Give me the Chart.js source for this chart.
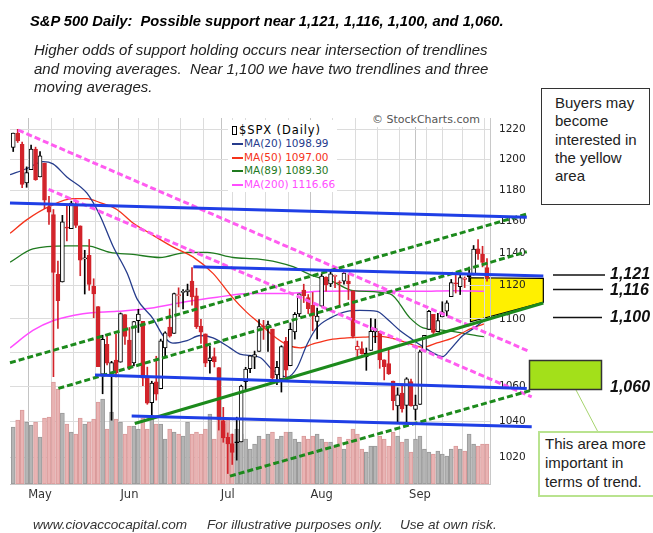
<!DOCTYPE html>
<html>
<head>
<meta charset="utf-8">
<script src="https://cdn.jsdelivr.net/npm/chart.js@4.4.1/dist/chart.umd.min.js"></script>
<style>
  html, body { margin: 0; padding: 0; background: #fff; }
  #wrap { position: relative; width: 653px; height: 533px; overflow: hidden; font-family: "Liberation Sans", Arial, sans-serif; }
  #wrap canvas, #wrap svg { position: absolute; left: 0; top: 0; }
  .t { position: absolute; white-space: nowrap; color: #111; }
  .title { left: 30px; top: 12px; font: italic bold 14.7px "Liberation Sans", Arial, sans-serif; line-height: 18px; color: #000; }
  .sub { left: 34px; top: 41px; font: italic 15px "Liberation Sans", Arial, sans-serif; line-height: 18.5px; white-space: pre; color: #222; }
  .foot { top: 517px; font: italic 13.6px "Liberation Sans", Arial, sans-serif; line-height: 15px; color: #333; }
  .box { position: absolute; background: #fff; font: 15px "Liberation Sans", Arial, sans-serif; color: #222; white-space: pre; }
  .lvl { position: absolute; left: 610px; font: italic bold 16px "Liberation Sans", Arial, sans-serif; line-height: 18px; color: #111; }
  .leg { position: absolute; left: 228px; top: 120px; width: 109px; height: 72px; background: #fff;
         font: 10.5px "DejaVu Sans", sans-serif; line-height: 13.4px; padding: 4px 0 0 4px; box-sizing: border-box; white-space: nowrap; }
  .leg .dash { display: inline-block; width: 11px; height: 2px; vertical-align: middle; margin-right: 1px; }
  .leg .hd { font-size: 11.5px; letter-spacing: 0.9px; color: #000; }
  .leg .ico { display: inline-block; width: 3px; height: 7px; border: 1px solid #000; margin-right: 2px; vertical-align: -1px; }
  .sc { left: 372px; top: 113px; font: 11px "DejaVu Sans", sans-serif; color: #555; background: #fff; line-height: 14px; }
</style>
</head>
<body>
<div id="wrap">
  <canvas id="chart" width="653" height="533"></canvas>
  <svg width="653" height="533">
    <line x1="553" y1="275" x2="605" y2="275" stroke="#111" stroke-width="1.5"/>
    <line x1="553" y1="289.5" x2="603" y2="289.5" stroke="#111" stroke-width="1.5"/>
    <line x1="553" y1="317.5" x2="602" y2="317.5" stroke="#111" stroke-width="1.5"/>
    <line x1="576" y1="390" x2="598" y2="432" stroke="#a6d46e" stroke-width="1"/>
    <rect x="529.5" y="360.5" width="72" height="29" fill="#a3e01a" stroke="#333" stroke-width="1.5"/>
  </svg>
  <div class="t title">S&amp;P 500 Daily:&nbsp; Possible support near 1,121, 1,116, 1,100, and 1,060.</div>
  <div class="t sub">Higher odds of support holding occurs near intersection of trendlines
and moving averages.  Near 1,100 we have two trendlines and three
moving averages.</div>
  <div class="t foot" style="left:33px">www.ciovaccocapital.com</div>
  <div class="t foot" style="left:207px">For illustrative purposes only.</div>
  <div class="t foot" style="left:400px">Use at own risk.</div>
  <div class="leg">
    <div class="hd"><span class="ico"></span>$SPX (Daily)</div>
    <div style="color:#263c8c"><span class="dash" style="background:#263c8c"></span>MA(20) 1098.99</div>
    <div style="color:#f5331b"><span class="dash" style="background:#f5331b"></span>MA(50) 1097.00</div>
    <div style="color:#1f7a1f"><span class="dash" style="background:#1f7a1f"></span>MA(89) 1089.30</div>
    <div style="color:#ff4dff"><span class="dash" style="background:#ff4dff"></span>MA(200) 1116.66</div>
  </div>
  <div class="t sc">© StockCharts.com</div>
  <div class="box" style="left:541px;top:88px;width:109px;height:117px;border:1px solid #333;box-sizing:border-box;padding:5px 0 0 13px;line-height:18.3px;">Buyers may
become
interested in
the yellow
area</div>
  <div class="box" style="left:538px;top:431px;width:118px;height:66px;border:2px solid #b9e38f;box-sizing:border-box;padding:1px 0 0 5px;line-height:19px;">This area more
important in
terms of trend.</div>
  <div class="lvl" style="top:265px">1,121</div>
  <div class="lvl" style="top:281px">1,116</div>
  <div class="lvl" style="top:308px">1,100</div>
  <div class="lvl" style="top:378px">1,060</div>
</div>

<script>
// $SPX daily, 2010-04-23 .. 2010-09-23
var dates = [
  '2010-04-23','2010-04-26','2010-04-27','2010-04-28','2010-04-29','2010-04-30',
  '2010-05-03','2010-05-04','2010-05-05','2010-05-06','2010-05-07','2010-05-10','2010-05-11','2010-05-12','2010-05-13','2010-05-14',
  '2010-05-17','2010-05-18','2010-05-19','2010-05-20','2010-05-21','2010-05-24','2010-05-25','2010-05-26','2010-05-27','2010-05-28',
  '2010-06-01','2010-06-02','2010-06-03','2010-06-04','2010-06-07','2010-06-08','2010-06-09','2010-06-10','2010-06-11','2010-06-14',
  '2010-06-15','2010-06-16','2010-06-17','2010-06-18','2010-06-21','2010-06-22','2010-06-23','2010-06-24','2010-06-25','2010-06-28',
  '2010-06-29','2010-06-30',
  '2010-07-01','2010-07-02','2010-07-06','2010-07-07','2010-07-08','2010-07-09','2010-07-12','2010-07-13','2010-07-14','2010-07-15',
  '2010-07-16','2010-07-19','2010-07-20','2010-07-21','2010-07-22','2010-07-23','2010-07-26','2010-07-27','2010-07-28','2010-07-29','2010-07-30',
  '2010-08-02','2010-08-03','2010-08-04','2010-08-05','2010-08-06','2010-08-09','2010-08-10','2010-08-11','2010-08-12','2010-08-13',
  '2010-08-16','2010-08-17','2010-08-18','2010-08-19','2010-08-20','2010-08-23','2010-08-24','2010-08-25','2010-08-26','2010-08-27',
  '2010-08-30','2010-08-31',
  '2010-09-01','2010-09-02','2010-09-03','2010-09-07','2010-09-08','2010-09-09','2010-09-10','2010-09-13','2010-09-14','2010-09-15',
  '2010-09-16','2010-09-17','2010-09-20','2010-09-21','2010-09-22','2010-09-23'
];
var opens = [
  1207.87,1217.07,1209.92,1184.59,1193.30,1206.77,
  1188.58,1197.50,1169.24,1164.38,1127.04,1122.27,1156.39,1155.43,1170.04,1157.19,
  1136.52,1138.78,1119.57,1107.34,1067.26,1084.78,1067.42,1075.51,1074.27,1102.59,
  1087.30,1073.89,1098.82,1098.43,1065.84,1050.81,1062.75,1058.77,1082.65,1095.00,
  1091.21,1114.02,1115.98,1116.16,1122.79,1113.90,1095.57,1090.93,1075.10,1077.50,
  1071.10,1040.56,
  1031.10,1027.65,1028.09,1028.54,1062.92,1070.50,1077.23,1080.65,1095.61,1094.46,
  1093.85,1066.85,1064.53,1086.67,1072.14,1092.17,1102.89,1117.36,1112.84,1108.07,1098.44,
  1107.53,1125.34,1121.06,1125.78,1122.07,1122.80,1122.92,1116.89,1081.48,1082.22,
  1077.49,1081.16,1092.08,1092.44,1075.63,1073.36,1063.20,1048.98,1056.28,1049.27,
  1062.90,1046.88,
  1049.72,1080.66,1093.61,1102.60,1092.36,1101.15,1104.57,1113.38,1121.16,1119.43,
  1123.89,1126.39,1126.57,1142.82,1139.49,1131.10
];
var highs = [
  1217.28,1219.80,1211.38,1195.05,1209.36,1207.99,
  1205.13,1197.50,1175.95,1167.58,1135.13,1163.85,1170.48,1172.87,1173.57,1157.19,
  1141.88,1148.66,1124.27,1107.34,1090.16,1089.95,1074.75,1090.75,1103.52,1102.59,
  1094.77,1098.42,1105.67,1098.43,1071.36,1063.15,1077.74,1087.85,1092.25,1105.91,
  1115.59,1118.74,1117.72,1121.01,1131.23,1118.50,1099.64,1090.93,1083.56,1082.60,
  1071.10,1048.08,
  1033.58,1032.95,1042.50,1060.89,1071.25,1078.16,1080.78,1099.46,1099.08,1098.66,
  1093.85,1074.70,1083.94,1088.96,1097.50,1103.73,1115.01,1120.95,1114.66,1115.90,1106.44,
  1127.30,1125.44,1128.75,1126.56,1123.06,1129.24,1127.16,1116.89,1086.72,1086.25,
  1082.62,1100.14,1099.77,1092.44,1075.63,1081.58,1063.20,1059.38,1061.45,1065.21,
  1064.40,1055.14,
  1081.30,1090.10,1105.10,1102.60,1103.26,1110.27,1110.88,1123.87,1127.36,1126.46,
  1125.44,1131.47,1144.86,1148.59,1144.38,1136.77
];
var lows = [
  1205.10,1211.07,1181.62,1181.81,1193.30,1186.32,
  1188.58,1168.12,1158.15,1065.79,1094.15,1122.27,1147.71,1155.43,1156.14,1126.14,
  1114.96,1117.20,1100.66,1071.58,1055.90,1072.70,1040.78,1065.59,1074.27,1084.78,
  1069.89,1072.03,1091.81,1060.50,1049.86,1042.17,1052.25,1058.77,1077.12,1089.03,
  1091.21,1107.13,1105.87,1113.93,1108.24,1094.18,1085.31,1071.60,1067.89,1071.45,
  1035.18,1028.33,
  1010.91,1015.93,1018.35,1028.54,1058.24,1068.10,1070.45,1080.65,1087.68,1080.53,
  1063.32,1061.11,1056.88,1065.25,1072.14,1087.88,1101.30,1109.78,1103.11,1092.82,1088.01,
  1107.53,1116.76,1119.46,1118.81,1107.17,1120.91,1111.58,1088.55,1076.69,1079.00,
  1069.49,1081.16,1085.76,1070.66,1063.91,1067.08,1046.68,1039.83,1045.40,1039.70,
  1048.79,1040.88,
  1049.72,1080.39,1093.61,1091.15,1092.36,1101.15,1101.70,1113.38,1115.58,1114.63,
  1118.88,1122.43,1126.57,1136.22,1131.58,1122.79
];
var closes = [
  1217.28,1212.05,1183.71,1191.36,1206.78,1186.69,
  1202.26,1173.60,1165.87,1128.15,1110.88,1159.73,1155.79,1171.67,1157.44,1135.68,
  1136.94,1120.80,1115.05,1071.59,1087.69,1073.65,1074.03,1067.95,1103.06,1089.41,
  1070.71,1098.38,1102.83,1064.88,1050.47,1062.00,1055.69,1086.84,1091.60,1089.63,
  1115.23,1114.61,1116.04,1117.51,1113.20,1095.31,1092.04,1073.69,1076.76,1074.57,
  1041.24,1030.71,
  1027.37,1022.58,1028.06,1060.27,1070.25,1077.96,1078.75,1095.34,1095.17,1096.48,
  1064.88,1071.25,1083.48,1069.59,1093.67,1102.66,1115.01,1113.84,1106.13,1101.53,1101.60,
  1125.86,1120.46,1127.24,1125.81,1121.64,1127.79,1121.06,1089.47,1083.61,1079.25,
  1079.38,1092.54,1094.16,1075.63,1071.69,1067.36,1051.87,1055.33,1047.22,1064.59,
  1048.92,1049.33,
  1080.29,1090.10,1104.51,1091.84,1098.87,1104.18,1109.55,1121.90,1121.10,1125.07,
  1124.66,1125.59,1142.71,1139.78,1134.28,1124.83
];
// volume, billions of shares
var volumes = [
  5.7,6.4,7.4,6.2,5.9,6.2,
  4.7,6.6,6.7,10.2,9.5,7.1,6.0,5.2,5.0,6.6,6.0,6.2,6.5,8.2,8.5,5.5,7.2,6.5,6.2,5.0,
  5.8,5.8,5.5,6.6,5.5,6.5,6.0,6.0,4.5,5.5,5.2,5.0,4.8,6.2,5.0,5.2,5.0,5.5,7.0,4.5,6.5,6.0,
  6.5,5.0,5.5,5.0,4.5,3.5,4.0,4.8,4.5,5.0,5.2,4.5,4.8,5.2,5.2,4.5,4.2,4.8,4.5,4.8,5.0,
  4.5,4.2,4.2,3.8,4.7,3.5,4.5,5.5,5.0,3.5,3.2,3.8,3.8,4.8,4.5,3.8,5.2,4.8,4.2,4.5,3.2,4.5,
  4.8,3.5,3.2,3.0,3.3,3.0,2.8,3.5,3.8,3.5,3.3,5.0,4.0,3.8,4.0,4.0
];

// moving averages: [day position, value]
var ma20 = [[-0.7,1190],[3.1,1194],[6.7,1198.5],[8.9,1197],[12.0,1188.5],[16.5,1178],[19.4,1163.8],[22.3,1144.6],
  [25.5,1127.6],[27.7,1112],[31.3,1100],[33.5,1090],[35.7,1085.5],[38.9,1087],[41.8,1090],[44.7,1088.6],[48.5,1082.7],
  [50.7,1079],[55.2,1077],[58.1,1069.5],[61.3,1065.5],[63.5,1071],[65.7,1084.5],[67.9,1094.5],[70.9,1100.4],[74.7,1104.5],
  [77.6,1105],[81.4,1104.5],[83.6,1100],[86.5,1093],[88.8,1088.6],[91.0,1084.5],[93.9,1079.8],[96.1,1077.5],[97.7,1081.5],
  [100.6,1090],[102.9,1094],[105.3,1098.99]];
var ma50 = [[-0.7,1152.5],[3.0,1161],[8.2,1169.7],[13.4,1174.5],[16.5,1174.5],[19.4,1172],[23.2,1167.6],[26.8,1159],
  [30.6,1152.5],[35.7,1144],[40.2,1137.8],[44.7,1127.6],[48.7,1114],[52.2,1104],[55.2,1097],[58.1,1090],[61.3,1084.5],
  [64.2,1082.7],[67.1,1085],[70.9,1087.6],[74.7,1088.6],[78.3,1089],[82.1,1089.5],[85.9,1087.6],[88.8,1085],[91.7,1083],
  [94.8,1085.6],[98.4,1088.6],[101.5,1093],[105.3,1097.00]];
var ma89 = [[-0.7,1134.5],[4.4,1142.7],[12.0,1144.6],[16.5,1144.6],[21.7,1140.6],[26.8,1139.3],[32.8,1137.4],[38.9,1140.6],
  [43.4,1140.6],[49.2,1137.4],[54.5,1136.5],[59.0,1134.6],[62.6,1131.7],[67.1,1126],[71.5,1122.5],[76.0,1117],[84.3,1115],
  [88.8,1100.4],[91.7,1094.5],[95.5,1093.3],[105.3,1089.30]];
var ma200 = [[-0.7,1082.7],[4.4,1093],[8.9,1098.8],[15.6,1103],[23.2,1104.5],[30.6,1106.3],[38.9,1110.4],[45.6,1113],
  [53.0,1115.3],[61.3,1115.3],[68.6,1116.6],[76.0,1116.8],[83.6,1116.8],[91.0,1116.6],[98.4,1117],[105.3,1116.66]];

// hand-drawn trendlines: [day1, price1, day2, price2]
var blueLines = [[-0.72,1171.7,114.9,1162.6],[40.3,1131.6,118.6,1125.9],[18.3,1066.7,114.9,1058.9],[26.5,1043.1,116.0,1037.0]];
var greenSolid = [[27.2,1038.9,118.6,1109.5]];
var greenDashed = [[-0.72,1073.9,114.9,1164.7],[10.1,1059.0,114.9,1141.0],[48.5,1009.5,116.0,1058.0]];
var pinkDashed = [[1.1,1219.3,115.6,1080.4],[7.9,1180.5,116.0,1054.1]];
// yellow support zone
var zoneDays = [102.3, 118.6];
var zoneTop = [1124.9, 1124.5];
var zoneBottom = [1098.2, 1109.9];

var priceTicks = [1020, 1040, 1060, 1080, 1100, 1120, 1140, 1160, 1180, 1200, 1220];
var monthNames = ['Jan','Feb','Mar','Apr','May','Jun','Jul','Aug','Sep','Oct','Nov','Dec'];

var RED = '#d2232a', BLACK = '#000';

var dayInfo = dates.map(function(d) {
  var dt = new Date(d + 'T00:00:00Z');
  return { dow: dt.getUTCDay(), month: dt.getUTCMonth() };
});
var gridDays = [], monthStart = {};
for (var i = 1; i < dates.length; i++) {
  var week = dayInfo[i].dow < dayInfo[i - 1].dow;
  var mon = dayInfo[i].month !== dayInfo[i - 1].month;
  if (mon) monthStart[i] = monthNames[dayInfo[i].month];
  if (week || mon) gridDays.push(i);
}

var colorOf = closes.map(function(c, i) { return (i === 0 || c >= closes[i - 1]) ? BLACK : RED; });

function seg(s, color, dash) {
  return {
    type: 'line', data: [{x: s[0], y: s[1]}, {x: s[2], y: s[3]}],
    borderColor: color, borderWidth: 3, borderDash: dash || [], pointRadius: 0,
    clip: false, order: 0, yAxisID: 'y'
  };
}
function maLine(arr, color, w) {
  return {
    type: 'line', data: arr.map(function(p) { return {x: p[0], y: p[1]}; }),
    borderColor: color, borderWidth: w, pointRadius: 0, tension: 0.4,
    cubicInterpolationMode: 'monotone', order: 3, yAxisID: 'y'
  };
}

var datasets = [];
blueLines.forEach(function(s) { datasets.push(seg(s, '#1f3fe6')); });
greenSolid.forEach(function(s) { datasets.push(seg(s, '#1c8a1c')); });
greenDashed.forEach(function(s) { datasets.push(seg(s, '#1c8a1c', [6, 3])); });
pinkDashed.forEach(function(s) { datasets.push(seg(s, '#ff5cf0', [6, 3])); });

datasets.push({
  type: 'bar', grouped: false, order: 1, yAxisID: 'y',
  data: dates.map(function(d, i) { return {x: i, y: [opens[i], closes[i]]}; }),
  backgroundColor: closes.map(function(c, i) { return c < opens[i] ? colorOf[i] : '#fff'; }),
  borderColor: colorOf, borderWidth: 1, borderSkipped: false, barThickness: 4, minBarLength: 1
});
datasets.push({
  type: 'bar', grouped: false, order: 2, yAxisID: 'y',
  data: dates.map(function(d, i) { return {x: i, y: [lows[i], highs[i]]}; }),
  backgroundColor: colorOf, borderWidth: 0, barThickness: 1
});
datasets.push(maLine(ma20, '#263c8c', 1.3));
datasets.push(maLine(ma50, '#f5331b', 1.3));
datasets.push(maLine(ma89, '#1f7a1f', 1.3));
datasets.push(maLine(ma200, '#ff4dff', 1.5));
datasets.push({
  type: 'bar', grouped: false, order: 5, yAxisID: 'yv',
  data: volumes.map(function(v, i) { return {x: i, y: v}; }),
  backgroundColor: colorOf.map(function(c) { return c === RED ? '#e9b3b3' : '#b5b5b5'; }),
  borderColor: colorOf.map(function(c) { return c === RED ? '#d99a9a' : '#999'; }),
  borderWidth: 1, borderSkipped: false, barThickness: 4
});

var zonePlugin = {
  id: 'zone',
  beforeDraw: function(chart) {
    var ctx = chart.ctx, x = chart.scales.x, y = chart.scales.y;
    ctx.save();
    ctx.beginPath();
    ctx.moveTo(x.getPixelForValue(zoneDays[0]), y.getPixelForValue(zoneTop[0]));
    ctx.lineTo(x.getPixelForValue(zoneDays[1]), y.getPixelForValue(zoneTop[1]));
    ctx.lineTo(x.getPixelForValue(zoneDays[1]), y.getPixelForValue(zoneBottom[1]));
    ctx.lineTo(x.getPixelForValue(zoneDays[0]), y.getPixelForValue(zoneBottom[0]));
    ctx.closePath();
    ctx.fillStyle = '#fff000';
    ctx.fill();
    ctx.strokeStyle = '#000';
    ctx.lineWidth = 1.2;
    ctx.stroke();
    ctx.restore();
  }
};

new Chart(document.getElementById('chart'), {
  type: 'bar',
  data: { datasets: datasets },
  plugins: [zonePlugin],
  options: {
    responsive: false,
    animation: false,
    devicePixelRatio: 1,
    layout: { padding: { left: 10, top: 118, right: 0, bottom: 0 } },
    plugins: { legend: { display: false }, tooltip: { enabled: false } },
    scales: {
      x: {
        type: 'linear', min: -0.72, max: 106.67, bounds: 'data', offset: false,
        afterBuildTicks: function(s) { s.ticks = gridDays.map(function(v) { return {value: v}; }); },
        afterFit: function(s) { s.height = 49; },
        grid: {
          drawTicks: false,
          color: function(c) { return (c.tick && monthStart[c.tick.value]) ? '#c4c4c4' : '#dcdcdc'; }
        },
        border: { color: '#c8c8c8' },
        ticks: {
          autoSkip: false, maxRotation: 0, padding: 4, color: '#333',
          font: { family: 'DejaVu Sans', size: 11.5 },
          callback: function(v) { return monthStart[v] || ''; }
        }
      },
      y: {
        type: 'logarithmic', position: 'right', min: 1005.17, max: 1227.35, bounds: 'data',
        afterBuildTicks: function(s) { s.ticks = priceTicks.map(function(v) { return {value: v}; }); },
        afterFit: function(s) { s.width = 163; },
        grid: { drawTicks: false, color: '#dcdcdc' },
        border: { color: '#c8c8c8' },
        ticks: {
          padding: 9, color: '#222',
          font: { family: 'DejaVu Sans', size: 10.5 },
          callback: function(v) { return v === 1080 ? '' : String(v); }
        }
      },
      yv: { type: 'linear', display: false, min: 0, max: 36.6 }
    }
  }
});
</script>
</body>
</html>
